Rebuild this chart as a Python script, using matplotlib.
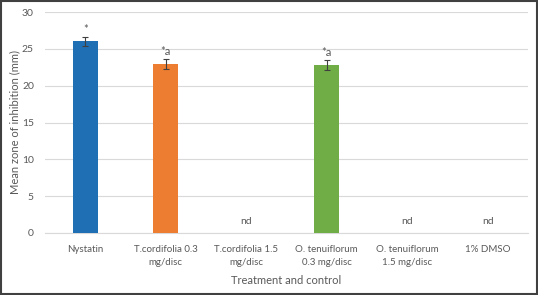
import matplotlib
matplotlib.use("Agg")
import matplotlib.pyplot as plt
from matplotlib.patches import Rectangle

categories = ["Nystatin", "T.cordifolia 0.3\nmg/disc", "T.cordifolia 1.5\nmg/disc",
              "O. tenuiflorum\n0.3 mg/disc", "O. tenuiflorum\n1.5 mg/disc", "1% DMSO"]
values = [26.0, 22.9, 0, 22.8, 0, 0]
errors = [0.6, 0.7, 0, 0.7, 0, 0]
annotations = ["*", "*a", "nd", "*a", "nd", "nd"]
colors = ["#1F6FB5", "#ED7D31", "#ED7D31", "#70AD47", "#70AD47", "#70AD47"]
yticks = [0, 5, 10, 15, 20, 25, 30]

plt.rcParams['font.family'] = ['Lato', 'DejaVu Sans']
txt = "#595959"

fig = plt.figure(figsize=(5.38, 2.95), dpi=100)
ax = fig.add_axes([45/538, (295-233)/295, (528-45)/538, (233-12)/295])

x = list(range(len(categories)))
for i in x:
    if values[i] > 0:
        ax.bar(i, values[i], width=0.31, color=colors[i], zorder=3)
        ax.errorbar(i, values[i], yerr=errors[i], fmt='none', ecolor='#404040',
                    elinewidth=0.8, capsize=2.5, capthick=0.8, zorder=4)
        ax.text(i, values[i] + errors[i] + 0.3, annotations[i], ha='center', va='bottom',
                fontsize=8, color=txt)
    else:
        ax.text(i, 1.0, annotations[i], ha='center', va='bottom', fontsize=7.5, color=txt)

ax.set_xlim(-0.5, len(categories) - 0.5)
ax.set_ylim(0, 30)
ax.set_yticks(yticks)
ax.set_xticks(x)
ax.set_xticklabels(categories, fontsize=7, color=txt, linespacing=1.45)
ax.tick_params(axis='y', labelsize=7.5, labelcolor=txt, length=0, pad=8)
ax.tick_params(axis='x', length=0, pad=9)
ax.grid(axis='y', color='#D9D9D9', linewidth=0.8, zorder=0)
for s in ['top', 'right', 'left']:
    ax.spines[s].set_visible(False)
ax.spines['bottom'].set_color('#D9D9D9')
ax.spines['bottom'].set_linewidth(0.8)
ax.set_ylabel("Mean zone of inhibition (mm)", fontsize=8, color=txt, labelpad=1)
ax.set_xlabel("Treatment and control", fontsize=8, color=txt, labelpad=6)

fig.patches.append(Rectangle((0.002, 0.003), 0.996, 0.994, transform=fig.transFigure,
                             fill=False, edgecolor='#404040', linewidth=1.5))

fig.savefig("out.png", dpi=100)
